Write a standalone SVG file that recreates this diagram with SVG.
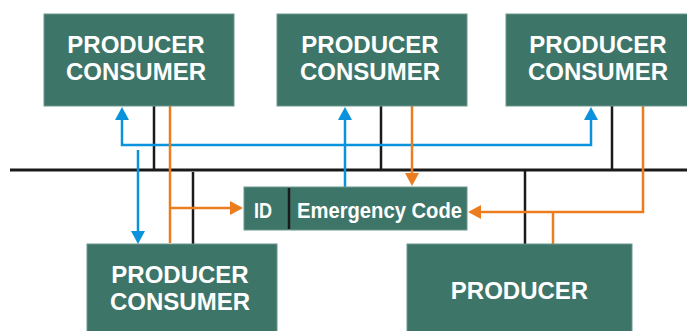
<svg xmlns="http://www.w3.org/2000/svg" width="687" height="331" viewBox="0 0 687 331">
  <style>
    .box { fill: #3e7569; stroke: #6a978d; stroke-width: 1; }
    .lbl { font-family: "Liberation Sans", Arial, sans-serif; font-weight: bold; font-size: 24px; fill: #ffffff; text-anchor: middle; }
    .small { font-family: "Liberation Sans", Arial, sans-serif; font-weight: bold; font-size: 22.5px; fill: #ffffff; }
    .bus { stroke: #1a1a1a; stroke-width: 3; fill: none; }
    .stub { stroke: #1a1a1a; stroke-width: 2.5; fill: none; }
    .blue { stroke: #0a93dc; stroke-width: 2.5; fill: none; }
    .orange { stroke: #ec7d1f; stroke-width: 2.5; fill: none; }
  </style>
  <defs>
    <marker id="ab" markerUnits="userSpaceOnUse" markerWidth="13" markerHeight="14" refX="0" refY="7" orient="auto-start-reverse" viewBox="0 0 13 14">
      <path d="M0,0 L13,7 L0,14 z" fill="#0a93dc"/>
    </marker>
    <marker id="ao" markerUnits="userSpaceOnUse" markerWidth="13" markerHeight="14" refX="0" refY="7" orient="auto-start-reverse" viewBox="0 0 13 14">
      <path d="M0,0 L13,7 L0,14 z" fill="#ec7d1f"/>
    </marker>
  </defs>

  <g id="connectors">
    <path class="bus" d="M10,170 L687,170"/>
    <path class="stub" d="M154,106 L154,170"/>
    <path class="stub" d="M381,106 L381,170"/>
    <path class="stub" d="M612,106 L612,170"/>
    <path class="stub" d="M193,172 L193,244"/>
    <path class="stub" d="M525,170 L525,244"/>
    <path class="blue" d="M122,120 L122,145 L591,145 L591,120" marker-start="url(#ab)" marker-end="url(#ab)"/>
    <path class="blue" d="M345,187 L345,120" marker-end="url(#ab)"/>
    <path class="blue" d="M138,150 L138,231" marker-end="url(#ab)"/>
    <path class="orange" d="M170,106 L170,243"/>
    <path class="orange" d="M170,208 L230,208" marker-end="url(#ao)"/>
    <path class="orange" d="M412,106 L412,173" marker-end="url(#ao)"/>
    <path class="orange" d="M643,106 L643,212 L481,212" marker-end="url(#ao)"/>
    <path class="orange" d="M553,244 L553,212"/>
  </g>

  <g id="node-pc1">
    <rect class="box" x="44" y="14" width="190" height="92"/>
    <text class="lbl" x="136" y="53">PRODUCER</text>
    <text class="lbl" x="136" y="80">CONSUMER</text>
  </g>
  <g id="node-pc2">
    <rect class="box" x="277" y="14" width="190" height="92"/>
    <text class="lbl" x="370" y="53">PRODUCER</text>
    <text class="lbl" x="370" y="80">CONSUMER</text>
  </g>
  <g id="node-pc3">
    <rect class="box" x="506" y="14" width="182" height="92"/>
    <text class="lbl" x="598" y="53">PRODUCER</text>
    <text class="lbl" x="598" y="80">CONSUMER</text>
  </g>
  <g id="node-pc4">
    <rect class="box" x="87" y="244" width="190" height="90"/>
    <text class="lbl" x="180" y="283">PRODUCER</text>
    <text class="lbl" x="180" y="310">CONSUMER</text>
  </g>
  <g id="node-producer">
    <rect class="box" x="407" y="244" width="225" height="90"/>
    <text class="lbl" x="519.5" y="299">PRODUCER</text>
  </g>
  <g id="node-message">
    <rect class="box" x="244" y="187" width="223" height="43"/>
    <path d="M289,188 L289,229" stroke="#1a1a1a" stroke-width="2.5"/>
    <text class="small" x="254" y="218" textLength="18" lengthAdjust="spacingAndGlyphs">ID</text>
    <text class="small" x="297" y="218" textLength="165" lengthAdjust="spacingAndGlyphs">Emergency Code</text>
  </g>
</svg>
